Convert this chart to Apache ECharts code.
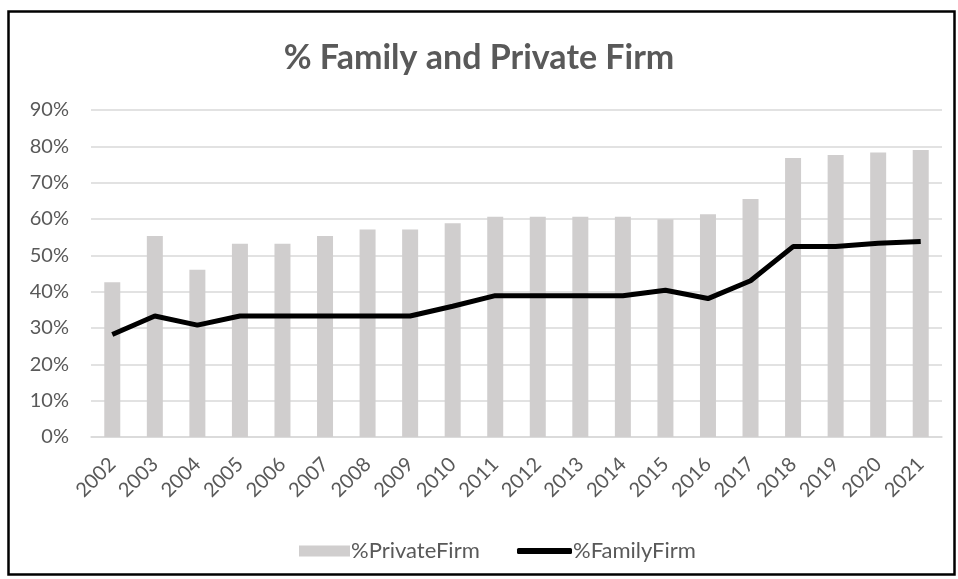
<!DOCTYPE html>
<html><head><meta charset="utf-8">
<script src="https://cdn.jsdelivr.net/npm/echarts@6/dist/echarts.min.js"></script>
<style>html,body{margin:0;padding:0;background:#fff}#c{width:958px;height:579px}</style>
</head><body><div id="c"></div>
<script>
const years = ['2002','2003','2004','2005','2006','2007','2008','2009','2010','2011','2012','2013','2014','2015','2016','2017','2018','2019','2020','2021'];
const privateFirm = [42.6,55.3,46.0,53.2,53.2,55.3,57.1,57.1,58.8,60.6,60.6,60.6,60.6,59.9,61.3,65.5,76.8,77.6,78.3,79.0];
const familyFirm = [28.2,33.3,30.8,33.3,33.3,33.3,33.3,33.3,36.0,38.9,38.9,38.9,38.9,40.4,38.1,43.0,52.4,52.4,53.3,53.8];
const yTicks = [0,10,20,30,40,50,60,70,80,90];

const chart = echarts.init(document.getElementById('c'), null, {renderer:'canvas'});
const font = 'Lato, "Open Sans", sans-serif';
const legendText = {fontFamily:font,fontSize:22,color:'#595959',padding:[0,0,0,-4]};
chart.setOption({
  animation:false,
  backgroundColor:'#fff',
  graphic:[{type:'rect',shape:{x:8.5,y:11.5,width:946,height:563},style:{fill:'none',stroke:'#000',lineWidth:2.5},silent:true}],
  title:{text:'% Family and Private Firm',left:'center',top:36,
    textStyle:{fontFamily:font,fontSize:34,fontWeight:'bold',color:'#595959'}},
  grid:{left:91,right:16,top:110,bottom:142,containLabel:false},
  legend:[
    {left:294,top:535,itemWidth:51,itemHeight:11,textStyle:legendText,
     data:[{name:'%PrivateFirm',icon:'rect'}]},
    {left:512,top:535,itemWidth:55,itemHeight:6,textStyle:legendText,
     data:[{name:'%FamilyFirm',icon:'roundRect',itemStyle:{color:'#000'}}]}
  ],
  xAxis:{type:'category',data:years,
    axisLine:{lineStyle:{color:'#d9d9d9',width:1.5}},axisTick:{show:false},
    axisLabel:{rotate:45,margin:24,fontFamily:font,fontSize:20,color:'#595959'}},
  yAxis:{type:'value',min:0,max:90,interval:10,
    axisLabel:{formatter:v=>v+'%',fontFamily:font,fontSize:20,color:'#595959',margin:22},
    splitLine:{lineStyle:{color:'#d9d9d9',width:1.5}},axisLine:{show:false},axisTick:{show:false}},
  series:[
    {name:'%PrivateFirm',type:'bar',data:privateFirm,barWidth:16,itemStyle:{color:'#d0cece'}},
    {name:'%FamilyFirm',type:'line',data:familyFirm,symbol:'none',lineStyle:{color:'#000',width:5},itemStyle:{color:'#000'}}
  ]
});
</script></body></html>
